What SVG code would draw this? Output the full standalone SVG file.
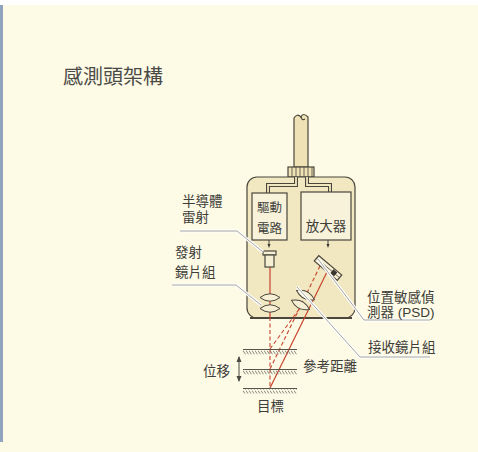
<svg xmlns="http://www.w3.org/2000/svg" width="478" height="452" viewBox="0 0 478 452">
  <style>
    .lbl { font-family: "Liberation Sans", "Noto Sans CJK TC", "Noto Sans CJK SC", sans-serif; font-size: 13.5px; fill: #3e3e3a; }
    .title { font-size: 20px; fill: #4a4a46; }
    .small { font-size: 12.5px; }
    .outline { stroke: #4a463c; stroke-width: 1.2; }
    .leader-halo { fill: none; stroke: #ffffff; stroke-width: 3; }
    .leader { fill: none; stroke: #a4a49c; stroke-width: 1; }
    .beam { fill: none; stroke: #c8442c; stroke-width: 1.2; }
    .beam-dash { fill: none; stroke: #c8442c; stroke-width: 1.1; stroke-dasharray: 4 2.5; }
    .surface { stroke: #55554d; stroke-width: 1; }
    .lens { fill: #f6efd4; stroke: #4a463c; stroke-width: 1; }
  </style>
  <defs>
    <pattern id="hatch" width="3" height="5" patternUnits="userSpaceOnUse">
      <line x1="0" y1="0.5" x2="2.6" y2="4.6" stroke="#6a6a60" stroke-width="0.8"/>
    </pattern>
    <marker id="tip" viewBox="0 0 6 6" refX="5" refY="3" markerWidth="6" markerHeight="6" orient="auto-start-reverse">
      <path d="M0,0.5 L6,3 L0,5.5 Z" fill="#4a4a44"/>
    </marker>
  </defs>

  <!-- page background -->
  <rect x="0" y="0" width="478" height="452" fill="#fdfae6"/>
  <rect x="0" y="0" width="478" height="5" fill="#ffffff"/>
  <rect x="0" y="5" width="3" height="437" fill="#90a4bf"/>

  <text id="title" class="lbl title" x="63" y="84">感測頭架構</text>

  <!-- cable and connector -->
  <g id="cable">
    <path d="M294,167 L294,118 Q297,113 301,117 Q303,112 308,117 L308,167 Z" fill="#efe3b6" class="outline"/>
    <path d="M301,117 Q302,121 305,119" fill="none" class="outline"/>
    <rect x="288" y="167" width="26" height="10" fill="#efe3b6" class="outline"/>
    <path d="M292,167 V177 M296,167 V177 M300,167 V177 M304,167 V177 M308,167 V177 M312,167 V177" stroke="#4a463c" stroke-width="0.8"/>
  </g>

  <!-- sensor housing -->
  <g id="housing">
    <rect x="247" y="177" width="108" height="141" rx="10" fill="#f1e7c0" class="outline"/>
    <line x1="250" y1="318" x2="352" y2="318" stroke="#4a463c" stroke-width="2.2"/>
  </g>

  <!-- internal wiring -->
  <g id="wiring" fill="none">
    <path d="M296,177 V185 H268 V193 M307,177 V185 H330 V192" stroke="#4a463c" stroke-width="4"/>
    <path d="M296,177 V185 H268 V193 M307,177 V185 H330 V192" stroke="#f1e7c0" stroke-width="1.8"/>
  </g>

  <g id="driver">
    <rect x="252" y="193" width="35" height="47" fill="#f8f2da" class="outline"/>
    <text class="lbl small" x="269.5" y="212" text-anchor="middle">驅動</text>
    <text class="lbl small" x="269.5" y="233" text-anchor="middle">電路</text>
  </g>

  <g id="amplifier">
    <rect x="301" y="192" width="50" height="48" fill="#f8f2da" class="outline"/>
    <text class="lbl" x="326" y="231" text-anchor="middle" font-size="13">放大器</text>
  </g>

  <!-- light paths -->
  <g id="beams">
    <line x1="270" y1="267" x2="270" y2="317" class="beam"/>
    <line x1="270" y1="317" x2="270" y2="388" class="beam-dash"/>
    <path d="M270,388 L327,272" class="beam"/>
    <path d="M270,369 L320,266" class="beam-dash"/>
    <path d="M270,349 L300,308" class="beam-dash"/>
  </g>

  <g id="laser">
    <line x1="269" y1="240" x2="269" y2="245" stroke="#4a463c" stroke-width="1"/>
    <path d="M267.5,244 L270.5,244 L269,248 Z" fill="#3a3630"/>
    <rect x="263" y="251" width="13" height="4" fill="#f6efd4" class="outline"/>
    <rect x="265" y="255" width="9" height="12" fill="#f6efd4" class="outline"/>
  </g>

  <g id="emitter-lens">
    <path d="M260,297.5 Q270,290 280,297.5 Q270,305 260,297.5 Z" class="lens"/>
    <path d="M260,308.5 Q270,301 280,308.5 Q270,316 260,308.5 Z" class="lens"/>
  </g>

  <g id="receiver-lens" transform="translate(303,300) rotate(27)">
    <path d="M-10,-5.5 Q0,-13 10,-5.5 Q0,2 -10,-5.5 Z" class="lens"/>
    <path d="M-10,5.5 Q0,-2 10,5.5 Q0,13 -10,5.5 Z" class="lens"/>
  </g>

  <g id="psd">
    <line x1="328" y1="240" x2="328" y2="245" stroke="#4a463c" stroke-width="1"/>
    <path d="M326.5,244 L329.5,244 L328,248 Z" fill="#3a3630"/>
    <g transform="translate(328,268) rotate(40)">
      <rect x="-15" y="-3.5" width="30" height="7" fill="#f6efd4" class="outline"/>
      <line x1="-15" y1="0" x2="15" y2="0" stroke="#4a463c" stroke-width="0.7"/>
      <rect x="5" y="-2.5" width="5" height="5" fill="#3a3630"/>
    </g>
  </g>

  <!-- target surfaces -->
  <g id="target">
    <rect x="243" y="349.5" width="54" height="5" fill="url(#hatch)"/>
    <rect x="243" y="369.5" width="54" height="5" fill="url(#hatch)"/>
    <rect x="243" y="388.5" width="54" height="5" fill="url(#hatch)"/>
    <line x1="243" y1="349.5" x2="297" y2="349.5" class="surface"/>
    <line x1="243" y1="369.5" x2="297" y2="369.5" class="surface"/>
    <line x1="243" y1="388.5" x2="297" y2="388.5" class="surface"/>
    <text class="lbl" x="257" y="411">目標</text>
  </g>

  <g id="displacement">
    <line x1="239" y1="357" x2="239" y2="381" stroke="#4a4a44" stroke-width="1" marker-start="url(#tip)" marker-end="url(#tip)"/>
    <text class="lbl" x="203" y="376">位移</text>
  </g>

  <text id="ref-distance" class="lbl" x="303" y="371">參考距離</text>

  <!-- label leaders -->
  <g id="leaders">
    <path d="M180,231 H237 L263,252" class="leader-halo"/>
    <path d="M172,285 H236 L261,305" class="leader-halo"/>
    <path d="M318,259 L364,320 H430" class="leader-halo"/>
    <path d="M297,287 L360,357 H430" class="leader-halo"/>
    <path d="M180,231 H237 L263,252" class="leader"/>
    <path d="M172,285 H236 L261,305" class="leader"/>
    <path d="M318,259 L364,320 H430" class="leader"/>
    <path d="M297,287 L360,357 H430" class="leader"/>
  </g>

  <g id="laser-label">
    <text class="lbl" x="182" y="205.5">半導體</text>
    <text class="lbl" x="182" y="221.5">雷射</text>
  </g>
  <g id="emitter-label">
    <text class="lbl" x="175" y="257">發射</text>
    <text class="lbl" x="175" y="277">鏡片組</text>
  </g>
  <g id="psd-label">
    <text class="lbl" x="367" y="301.5">位置敏感偵</text>
    <text class="lbl" x="367" y="317">測器 (PSD)</text>
  </g>
  <text id="receiver-label" class="lbl" x="368" y="352">接收鏡片組</text>
</svg>
